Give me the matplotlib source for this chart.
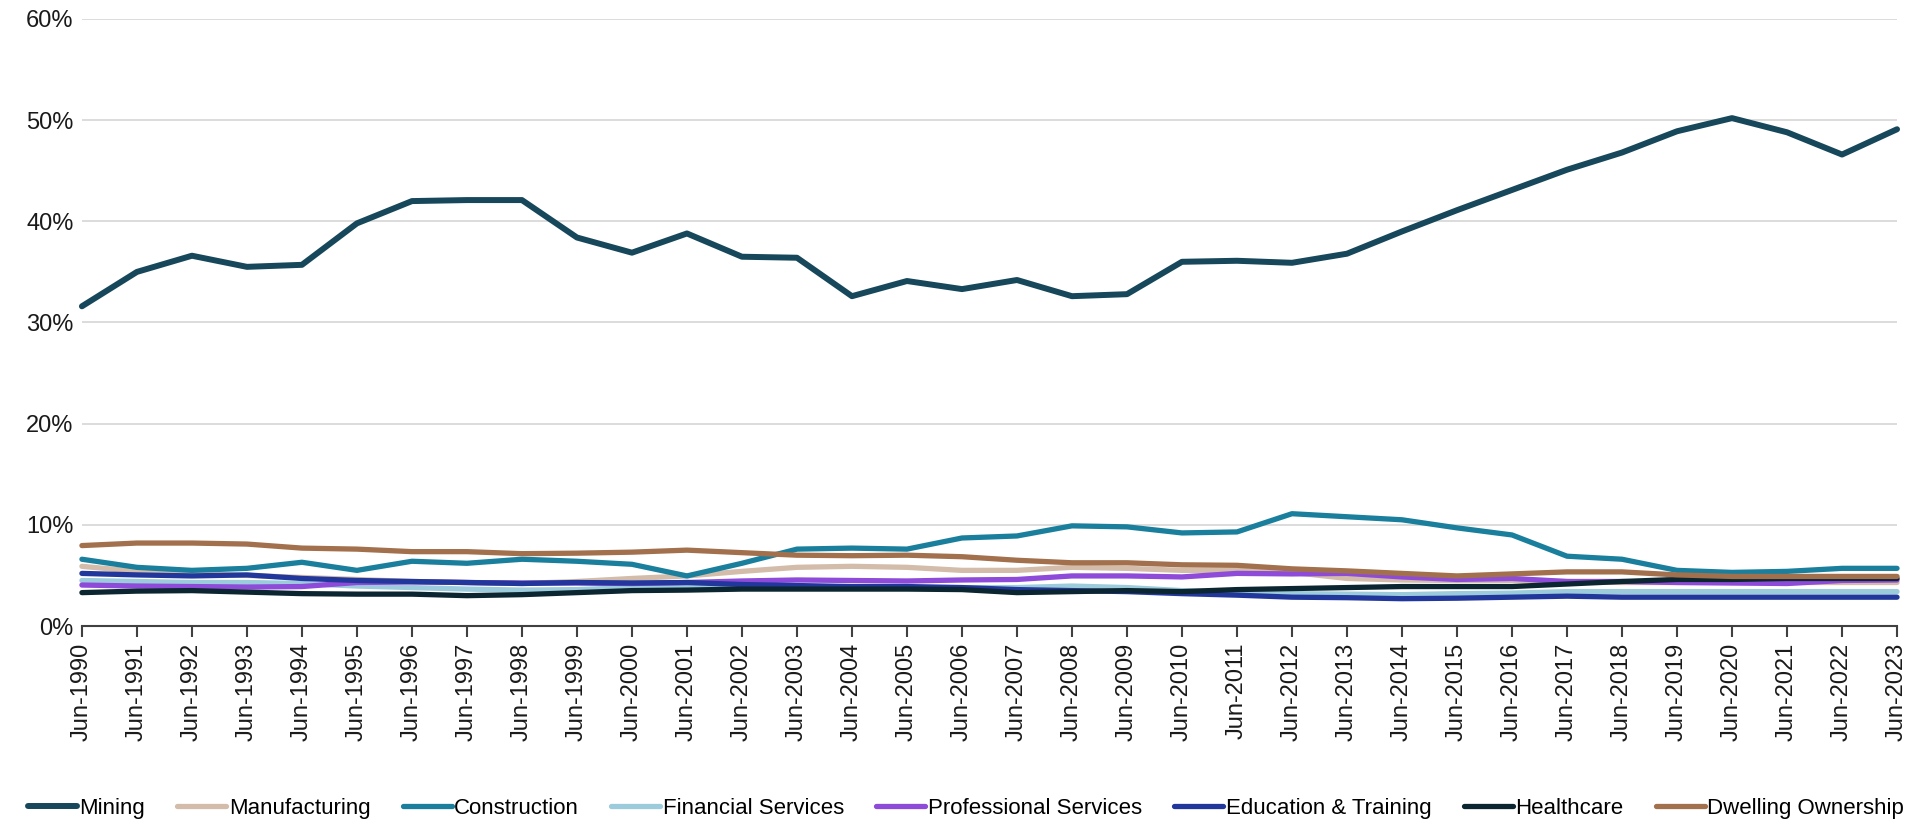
import matplotlib
matplotlib.use("Agg")
import matplotlib.pyplot as plt
from matplotlib.ticker import FuncFormatter, MultipleLocator

plt.rcParams['font.family'] = ['Liberation Sans', 'DejaVu Sans']

years = list(range(1990, 2024))
labels = [f"Jun-{y}" for y in years]

mining = [31.6, 35.0, 36.6, 35.5, 35.7, 39.8, 42.0, 42.1, 42.1, 38.4,
          36.9, 38.8, 36.5, 36.4, 32.6, 34.1, 33.3, 34.2, 32.6, 32.8,
          36.0, 36.1, 35.9, 36.8, 39.0, 41.1, 43.1, 45.1, 46.8, 48.9,
          50.2, 48.8, 46.6, 49.1]
manufacturing = [5.9, 5.4, 5.2, 5.0, 4.8, 4.6, 4.4, 4.3, 4.2, 4.4,
                 4.7, 4.95, 5.4, 5.8, 5.9, 5.8, 5.5, 5.5, 5.8, 5.7,
                 5.5, 5.5, 5.3, 4.7, 4.55, 4.5, 4.5, 4.4, 4.3, 4.3,
                 4.3, 4.3, 4.3, 4.3]
construction = [6.6, 5.8, 5.5, 5.7, 6.3, 5.5, 6.4, 6.2, 6.6, 6.4,
                6.1, 4.95, 6.2, 7.6, 7.7, 7.6, 8.7, 8.9, 9.9, 9.8,
                9.2, 9.3, 11.1, 10.8, 10.5, 9.7, 9.0, 6.9, 6.6, 5.5,
                5.3, 5.4, 5.7, 5.7]
financial = [4.5, 4.4, 4.3, 4.3, 4.2, 3.95, 3.8, 3.65, 3.55, 3.6,
             3.8, 3.9, 3.9, 3.8, 3.8, 3.8, 3.8, 3.8, 3.95, 3.8,
             3.5, 3.35, 3.2, 3.15, 3.1, 3.2, 3.25, 3.4, 3.4, 3.4,
             3.4, 3.4, 3.4, 3.4]
professional = [4.05, 3.95, 3.9, 3.85, 3.9, 4.3, 4.35, 4.3, 4.25, 4.25,
                4.2, 4.3, 4.45, 4.55, 4.5, 4.45, 4.55, 4.6, 4.95, 4.95,
                4.85, 5.2, 5.15, 5.2, 4.85, 4.6, 4.7, 4.4, 4.4, 4.3,
                4.25, 4.2, 4.5, 4.55]
education = [5.2, 5.05, 4.95, 5.05, 4.7, 4.5, 4.4, 4.3, 4.2, 4.3,
             4.25, 4.3, 4.1, 4.0, 3.9, 3.9, 3.8, 3.6, 3.5, 3.4,
             3.2, 3.05, 2.85, 2.8, 2.7, 2.75, 2.85, 2.95, 2.85, 2.85,
             2.85, 2.85, 2.85, 2.85]
healthcare = [3.3, 3.45, 3.5, 3.35, 3.2, 3.15, 3.15, 3.0, 3.1, 3.3,
              3.5, 3.55, 3.65, 3.65, 3.65, 3.65, 3.6, 3.3, 3.4, 3.5,
              3.4, 3.6, 3.7, 3.8, 3.9, 3.9, 3.9, 4.15, 4.4, 4.6,
              4.6, 4.7, 4.7, 4.7]
dwelling = [7.95, 8.2, 8.2, 8.1, 7.7, 7.6, 7.35, 7.35, 7.15, 7.2,
            7.3, 7.5, 7.25, 7.0, 6.95, 7.0, 6.85, 6.5, 6.25, 6.25,
            6.05, 6.0, 5.65, 5.45, 5.2, 4.95, 5.15, 5.35, 5.35, 5.05,
            4.9, 4.9, 4.9, 4.9]

series = [
    ("Mining", mining, "#17475a"),
    ("Manufacturing", manufacturing, "#d3bca9"),
    ("Construction", construction, "#1a7f9c"),
    ("Financial Services", financial, "#9ccbdc"),
    ("Professional Services", professional, "#8e4ad8"),
    ("Education & Training", education, "#22379b"),
    ("Healthcare", healthcare, "#0b2630"),
    ("Dwelling Ownership", dwelling, "#a2704c"),
]

fig = plt.figure(figsize=(19.32, 8.25), dpi=100)
ax = fig.add_axes([0.0424, 0.2412, 0.9395, 0.7358])

x = list(range(len(years)))
for name, vals, color in series:
    lw = 4.3 if name == "Mining" else 3.8
    ax.plot(x, vals, color=color, lw=lw, label=name,
            solid_capstyle='round', solid_joinstyle='round', clip_on=False)

ax.set_xlim(0, len(years) - 1)
ax.set_ylim(0, 60)
ax.yaxis.set_major_locator(MultipleLocator(10))
ax.yaxis.set_major_formatter(FuncFormatter(lambda v, p: f"{int(v)}%"))
ax.grid(axis='y', color='#d9d9d9', lw=1.3)
ax.set_axisbelow(True)

ax.set_xticks(x)
ax.set_xticklabels(labels, rotation=90, fontsize=17, color='#1a1a1a')
ax.tick_params(axis='x', direction='out', length=8, width=1.5, color='#404040', pad=4)
ax.tick_params(axis='y', length=0, labelsize=17, labelcolor='#1a1a1a', pad=6)

for s in ['top', 'right', 'left']:
    ax.spines[s].set_visible(False)
ax.spines['bottom'].set_color('#404040')
ax.spines['bottom'].set_linewidth(1.5)

fig.legend(loc='lower center', bbox_to_anchor=(0.5, -0.011), ncol=8, frameon=False,
           fontsize=16, handlelength=2.2, handletextpad=0.12, columnspacing=1.45,
           borderaxespad=0.3)

fig.savefig("out.png", dpi=100)
